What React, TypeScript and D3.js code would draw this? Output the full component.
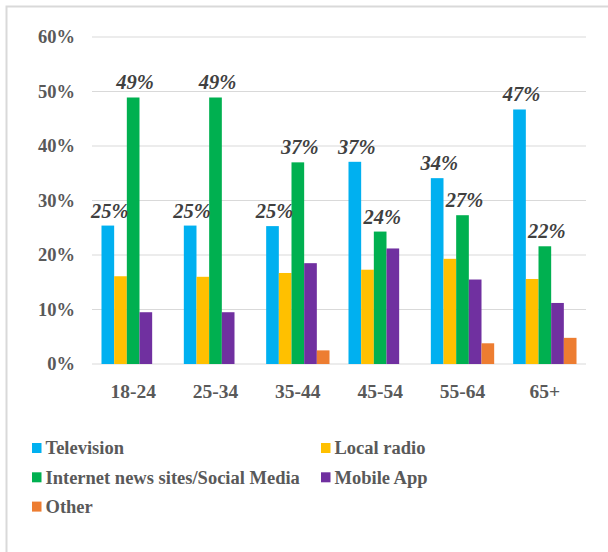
import React from "react";
import * as d3 from "d3";

const categories = ["18-24", "25-34", "35-44", "45-54", "55-64", "65+"];
const seriesNames = ["Television", "Local radio", "Internet news sites/Social Media", "Mobile App", "Other"];
const television = [25.4, 25.4, 25.3, 37.1, 34.1, 46.7];
const localRadio = [16.1, 16.0, 16.7, 17.3, 19.3, 15.6];
const internet = [48.9, 48.9, 37.0, 24.3, 27.3, 21.6];
const mobileApp = [9.5, 9.5, 18.5, 21.2, 15.5, 11.2];
const other = [0, 0, 2.5, 0, 3.8, 4.8];
const tickValues = [0, 10, 20, 30, 40, 50, 60];
const labeledSeries = [0, 2];

const colors = ["#00B0F0", "#FFC000", "#00B050", "#7030A0", "#ED7D31"];
const seriesValues = [television, localRadio, internet, mobileApp, other];

export default function App() {
  const W = 608, H = 552;
  const left = 92, right = 586, top = 37, bottom = 364;
  const x0 = d3.scaleBand().domain(categories).range([left, right]).paddingInner(0.2307).paddingOuter(0.1153);
  const x1 = d3.scaleBand().domain(seriesNames).range([0, x0.bandwidth()]);
  const y = d3.scaleLinear().domain([0, 60]).range([bottom, top]);
  const serif = "'Liberation Serif', 'Times New Roman', serif";

  return (
    <svg width={W} height={H} style={{ position: "absolute", left: 0, top: 0 }} fontFamily={serif}>
      <rect x={0} y={0} width={W} height={H} fill="#fff" />
      <rect x={6.5} y={6.5} width={W + 20} height={H + 20} fill="none" stroke="#d9d9d9" strokeWidth={2} />
      {tickValues.map((t) => (
        <g key={t}>
          <line x1={left} x2={right} y1={y(t)} y2={y(t)} stroke="#d9d9d9" strokeWidth={1.2} />
          <text x={75} y={y(t)} dy="0.35em" textAnchor="end" fontSize={18.5} fontWeight="bold" fill="#595959">
            {t}%
          </text>
        </g>
      ))}
      {categories.map((c, ci) => (
        <g key={c}>
          {seriesNames.map((s, si) => {
            const v = seriesValues[si][ci];
            if (v <= 0) return null;
            return (
              <rect key={s} x={x0(c)! + x1(s)!} y={y(v)} width={x1.bandwidth()} height={bottom - y(v)} fill={colors[si]} />
            );
          })}
          {labeledSeries.map((si) => {
            const v = seriesValues[si][ci];
            const cx = x0(c)! + x1(seriesNames[si])! + x1.bandwidth() / 2 + 2;
            return (
              <text key={si} x={cx} y={y(v) - 8} textAnchor="middle" fontSize={20.5} fontWeight="bold" fontStyle="italic" fill="#404040">
                {Math.round(v)}%
              </text>
            );
          })}
          <text x={x0(c)! + x0.bandwidth() / 2} y={398} textAnchor="middle" fontSize={19.5} fontWeight="bold" fill="#595959">
            {c}
          </text>
        </g>
      ))}
      {seriesNames.map((s, i) => {
        const col = i % 2;
        const row = Math.floor(i / 2);
        const lx = col === 0 ? 32 : 321;
        const ly = 448 + row * 29.3;
        return (
          <g key={s}>
            <rect x={lx} y={ly - 5} width={9.5} height={10} fill={colors[i]} />
            <text x={lx + 13.5} y={ly} dy="0.35em" fontSize={18.5} fontWeight="bold" fill="#595959">
              {s}
            </text>
          </g>
        );
      })}
    </svg>
  );
}
